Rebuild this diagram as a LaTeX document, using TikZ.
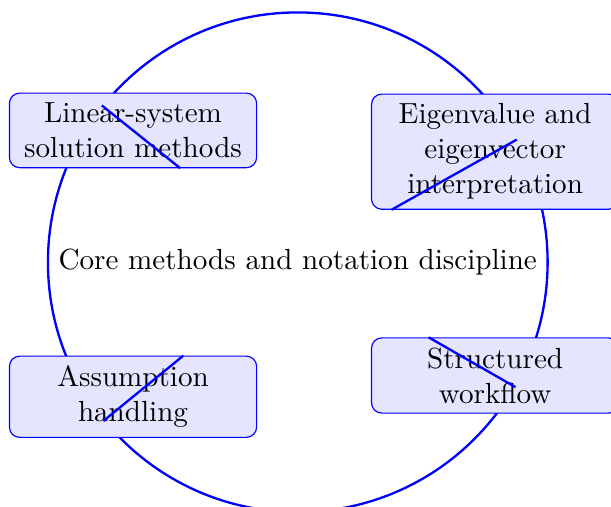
\documentclass[tikz,border=0pt]{standalone}
\begin{document}
\begin{tikzpicture}[
  hub/.style={circle, draw=blue, thick, inner sep=3.333pt},
  topic/.style={draw=blue, fill=blue!10, rounded corners=3.5pt,
                text width=2.75cm, align=center},
  link/.style={draw=blue, thick}
]
  \useasboundingbox (-102.3pt,-84.0pt) rectangle (107.6pt,90.1pt);

  % central theme
  \node[hub] (core) at (0,0) {Core methods and notation discipline};

  % surrounding topics
  \node[topic] (lin) at (-56.6pt,45.3pt) {Linear-system solution methods};
  \node[topic] (eig) at (67.8pt,38.0pt) {Eigenvalue and eigenvector interpretation};
  \node[topic] (ass) at (-56.6pt,-46.2pt) {Assumption handling};
  \node[topic] (wf)  at (67.8pt,-38.9pt) {Structured workflow};

  % connectors from the theme to each topic
  \draw[link] (core) -- (lin);
  \draw[link] (core) -- (eig);
  \draw[link] (core) -- (ass);
  \draw[link] (core) -- (wf);
\end{tikzpicture}
\end{document}
